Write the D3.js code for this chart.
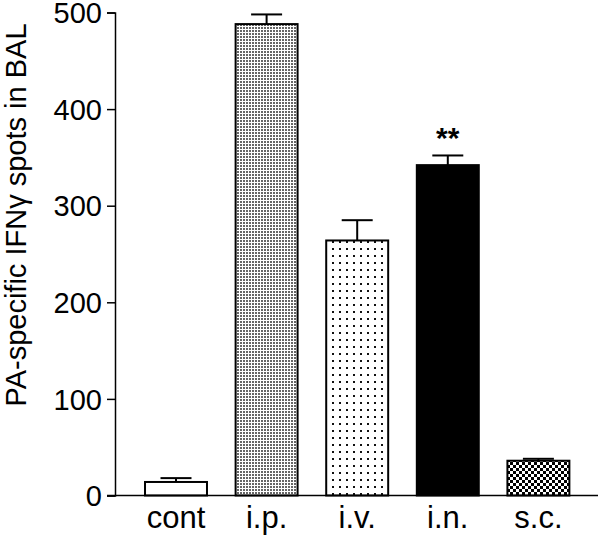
<!DOCTYPE html>
<html>
<head>
<meta charset="utf-8">
<script src="https://cdn.jsdelivr.net/npm/d3@7"></script>
<style>
  body { margin: 0; background: #fff; }
  text { font-family: "Liberation Sans", Arial, sans-serif; }
</style>
</head>
<body>
<script>
const m = { width: 600, height: 536 }

// values
const groups = ['cont', 'i.p.', 'i.v.', 'i.n.', 's.c.']
const means = [14, 488, 264, 342, 36]
const errs = [4, 10, 21, 10, 2]
const fills = ['#fff', 'url(#dense)', 'url(#sparse)', '#000', 'url(#check)']
const yTicks = [0, 100, 200, 300, 400, 500]

const svg = d3.select('body').append('svg')
    .attr('width', m.width)
    .attr('height', m.height)

// fill patterns
const defs = svg.append('defs')

const dense = defs.append('pattern').attr('id', 'dense')
    .attr('patternUnits', 'userSpaceOnUse').attr('width', 3).attr('height', 3)
dense.append('rect').attr('width', 3).attr('height', 3).attr('fill', '#fff')
dense.append('rect').attr('width', 2).attr('height', 2).attr('fill', '#666')

const sparse = defs.append('pattern').attr('id', 'sparse')
    .attr('patternUnits', 'userSpaceOnUse').attr('width', 7).attr('height', 7)
sparse.append('rect').attr('width', 7).attr('height', 7).attr('fill', '#fff')
sparse.append('rect').attr('x', 3).attr('y', 3).attr('width', 2).attr('height', 2).attr('fill', '#111')

const check = defs.append('pattern').attr('id', 'check')
    .attr('patternUnits', 'userSpaceOnUse').attr('width', 6).attr('height', 6)
check.append('rect').attr('width', 6).attr('height', 6).attr('fill', '#fff')
check.append('rect').attr('width', 3).attr('height', 3).attr('fill', '#000')
check.append('rect').attr('x', 3).attr('y', 3).attr('width', 3).attr('height', 3).attr('fill', '#000')

const y = d3.scaleLinear()
    .domain([0, 500])
    .range([495.5, 12.5])

const x = d3.scaleBand()
    .domain(groups)
    .range([130.7, 583.7])
    .paddingInner(0.316)
    .paddingOuter(0.158)

const g = svg.append('g')

// bars
g.selectAll('.bar')
    .data(groups)
    .enter()
    .append('rect')
        .attr('class', 'bar')
        .attr('x', d => x(d))
        .attr('width', x.bandwidth())
        .attr('y', (d, i) => y(means[i]))
        .attr('height', (d, i) => y(0) - y(means[i]))
        .attr('fill', (d, i) => fills[i])
        .attr('stroke', '#000')
        .attr('stroke-width', 2)

// error bars (upper only)
const eb = g.selectAll('.err')
    .data(groups)
    .enter()
    .append('g')
        .attr('class', 'err')
eb.append('line')
    .attr('x1', d => x(d) + x.bandwidth() / 2)
    .attr('x2', d => x(d) + x.bandwidth() / 2)
    .attr('y1', (d, i) => y(means[i]))
    .attr('y2', (d, i) => y(means[i] + errs[i]))
    .attr('stroke', '#000')
    .attr('stroke-width', 2)
eb.append('line')
    .attr('x1', d => x(d) + x.bandwidth() / 4)
    .attr('x2', d => x(d) + x.bandwidth() * 3 / 4)
    .attr('y1', (d, i) => y(means[i] + errs[i]))
    .attr('y2', (d, i) => y(means[i] + errs[i]))
    .attr('stroke', '#000')
    .attr('stroke-width', 2)

// significance mark
g.append('text')
    .attr('x', x('i.n.') + x.bandwidth() / 2)
    .attr('y', 148)
    .attr('text-anchor', 'middle')
    .attr('font-size', 30)
    .attr('font-weight', 'bold')
    .text('**')

// y axis
const yAxis = svg.append('g')
    .attr('transform', 'translate(115,0)')
    .call(d3.axisLeft(y).tickValues(yTicks).tickSize(8).tickPadding(5))
yAxis.selectAll('path, line').attr('stroke', '#000').attr('stroke-width', 1.5)
yAxis.selectAll('text').attr('font-size', 29).attr('fill', '#000')
    .attr('font-family', '"Liberation Sans", Arial, sans-serif')
    .attr('dy', '0.35em')

// x baseline
svg.append('line')
    .attr('x1', 107).attr('x2', 598)
    .attr('y1', y(0)).attr('y2', y(0))
    .attr('stroke', '#000').attr('stroke-width', 1.5)

// x labels
svg.selectAll('.xlab')
    .data(groups)
    .enter()
    .append('text')
        .attr('class', 'xlab')
        .attr('x', d => x(d) + x.bandwidth() / 2)
        .attr('y', 528)
        .attr('text-anchor', 'middle')
        .attr('font-size', 31)
        .text(d => d)

// y axis title
svg.append('text')
    .attr('transform', 'translate(26,215) rotate(-90)')
    .attr('text-anchor', 'middle')
    .attr('font-size', 29)
    .text('PA-specific IFNγ spots in BAL')
</script>
</body>
</html>
